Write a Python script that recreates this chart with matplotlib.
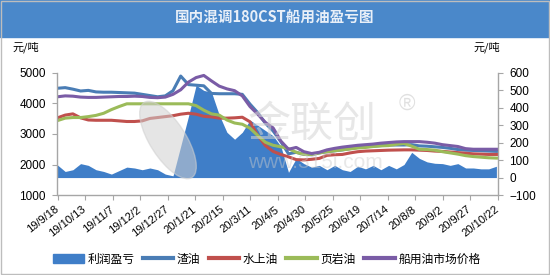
import matplotlib
matplotlib.use("Agg")
import matplotlib.pyplot as plt
import matplotlib.dates as mdates
from matplotlib.patches import Rectangle, Patch, Ellipse
from matplotlib.lines import Line2D
import pandas as pd

plt.rcParams['font.family'] = ['Liberation Sans', 'Noto Sans CJK SC', 'DejaVu Sans']

# ---------------- data ----------------
dates = pd.date_range('2019-09-18', periods=58, freq='7D')

residual = [4500, 4520, 4470, 4410, 4430, 4380, 4370, 4370, 4360, 4350,
            4340, 4300, 4260, 4220, 4250, 4420, 4900, 4620, 4600, 4580,
            4330, 4320, 4320, 4320, 4300, 3980, 3700, 3350, 3100, 2750,
            2350, 2400, 2330, 2320, 2380, 2420, 2450, 2480, 2520, 2560,
            2580, 2600, 2620, 2640, 2640, 2640, 2650, 2610, 2600, 2580,
            2560, 2530, 2490, 2470, 2460, 2450, 2440, 2430]

market = [4220, 4250, 4240, 4210, 4200, 4200, 4210, 4220, 4230, 4230,
          4240, 4230, 4200, 4190, 4210, 4300, 4450, 4700, 4850, 4920,
          4740, 4570, 4480, 4420, 4250, 3900, 3650, 3380, 3200, 2770,
          2500, 2560, 2420, 2360, 2400, 2480, 2530, 2570, 2600, 2630,
          2650, 2670, 2700, 2720, 2740, 2750, 2750, 2750, 2730, 2700,
          2650, 2620, 2590, 2520, 2500, 2500, 2500, 2500]

shale = [3440, 3520, 3540, 3540, 3570, 3610, 3680, 3800, 3900, 3990,
         3990, 3990, 3990, 3990, 3990, 3990, 3990, 3990, 3930, 3780,
         3660, 3620, 3460, 3360, 3320, 3190, 2950, 2730, 2630, 2580,
         2520, 2400, 2330, 2330, 2380, 2420, 2450, 2480, 2510, 2540,
         2560, 2590, 2610, 2620, 2660, 2690, 2600, 2500, 2490, 2470,
         2420, 2380, 2340, 2290, 2260, 2240, 2220, 2210]

water = [3530, 3620, 3660, 3530, 3460, 3450, 3450, 3450, 3430, 3410,
         3410, 3430, 3510, 3540, 3570, 3600, 3650, 3680, 3650, 3580,
         3560, 3520, 3520, 3530, 3550, 3400, 2950, 2620, 2430, 2330,
         2250, 2160, 2150, 2170, 2200, 2300, 2320, 2330, 2380, 2420,
         2440, 2450, 2460, 2470, 2475, 2480, 2480, 2470, 2460, 2440,
         2430, 2410, 2390, 2370, 2350, 2340, 2330, 2330]

profit = [72, 35, 45, 80, 70, 45, 35, 20, 40, 60,
          55, 45, 55, 45, 20, 10, 180, 350, 530, 500,
          490, 360, 260, 220, 260, 330, 300, 270, 240, 180,
          30, 110, 80, 60, 70, 45, 70, 45, 35, 65,
          50, 70, 45, 70, 50, 75, 145, 110, 90, 82,
          80, 70, 80, 55, 55, 50, 50, 65]

tick_dates = pd.date_range('2019-09-18', '2020-10-22', freq='25D')
tick_labels = ['19/9/18', '19/10/13', '19/11/7', '19/12/2', '19/12/27',
               '20/1/21', '20/2/15', '20/3/11', '20/4/5', '20/4/30',
               '20/5/25', '20/6/19', '20/7/14', '20/8/8', '20/9/2',
               '20/9/27', '20/10/22']

title = '国内混调180CST船用油盈亏图'
unit = '元/吨'
series_names = ['利润盈亏', '渣油', '水上油', '页岩油', '船用油市场价格']

# ---------------- style ----------------
c_area = '#3f7ec8'
c_res = '#4a7db5'
c_water = '#c0504d'
c_shale = '#9bbb59'
c_market = '#7a5ca6'
c_spine = '#a6a6a6'

W, H = 550, 275
fig = plt.figure(figsize=(W / 100, H / 100), dpi=100)
fig.patch.set_facecolor('white')

# title bar
fig.patches.append(Rectangle((0, 1 - 37 / H), 1, 37 / H, transform=fig.transFigure,
                             color='#4a88ca', zorder=0))
fig.text(0.5, 1 - 18 / H, title, ha='center', va='center', color='#e8eff8',
         fontsize=10.5, fontweight='bold', family=['Noto Sans CJK SC'])

fig.text(12 / W, 1 - 47 / H, unit, ha='left', va='center', fontsize=8,
         family=['Noto Sans CJK SC'])
fig.text(500 / W, 1 - 47 / H, unit, ha='right', va='center', fontsize=8,
         family=['Noto Sans CJK SC'])

l, r, t, b = 57.5, 497.5, 73, 195
ax = fig.add_axes([l / W, 1 - b / H, (r - l) / W, (b - t) / H])
ax2 = ax.twinx()

ax2.fill_between(dates, 0, profit, color=c_area, lw=0)
ax.plot(dates, residual, color=c_res, lw=2.2)
ax.plot(dates, water, color=c_water, lw=2.2)
ax.plot(dates, shale, color=c_shale, lw=2.2)
ax.plot(dates, market, color=c_market, lw=2.2)

ax.set_zorder(ax2.get_zorder() + 1)
ax.patch.set_visible(False)

ax.set_xlim(pd.Timestamp('2019-09-18'), pd.Timestamp('2020-10-22'))
ax.set_ylim(1000, 5000)
ax2.set_ylim(-100, 600)
ax.set_yticks(range(1000, 5001, 1000))
ax2.set_yticks(range(-100, 601, 100))
ax.set_xticks(tick_dates)
ax.set_xticklabels(tick_labels, rotation=38, ha='right', va='center',
                   rotation_mode='anchor', fontsize=8)

for a in (ax, ax2):
    for s in a.spines.values():
        s.set_visible(False)
ax.spines['left'].set_visible(True)
ax.spines['bottom'].set_visible(True)
ax2.spines['right'].set_visible(True)
for s in (ax.spines['left'], ax.spines['bottom'], ax2.spines['right']):
    s.set_color(c_spine)
    s.set_linewidth(1)

ax.tick_params(axis='y', labelsize=8.5, length=3.5, color=c_spine, pad=5)
ax.tick_params(axis='x', length=3.5, color=c_spine, pad=6)
ax2.tick_params(axis='y', labelsize=8.5, length=3.5, color=c_spine, pad=5)

# watermark
fig.patches.append(Ellipse((168 / W, 1 - 140 / H), 40 / W, 80 / H, angle=15,
                           transform=fig.transFigure, color='#d0d0d0', alpha=0.55,
                           zorder=5))
fig.text(312 / W, 1 - 125 / H, '金联创', ha='center', va='center', fontsize=31,
         color='#d4d4d4', alpha=0.55, family=['Noto Sans CJK SC'], zorder=6)
fig.text(407 / W, 1 - 104 / H, '®', ha='center', va='center', fontsize=16,
         color='#d4d4d4', alpha=0.7, zorder=6)
fig.text(315 / W, 1 - 163 / H, 'www.315i.com', ha='center', va='center',
         fontsize=15, color='#cccccc', alpha=0.45, zorder=6)

# legend
handles = [Patch(color=c_area),
           Line2D([], [], color=c_res, lw=3),
           Line2D([], [], color=c_water, lw=3),
           Line2D([], [], color=c_shale, lw=3),
           Line2D([], [], color=c_market, lw=3)]
fig.legend(handles, series_names, loc='center', bbox_to_anchor=(0.485, 1 - 259 / H),
           ncol=5, frameon=False, prop={'family': ['Noto Sans CJK SC'], 'size': 8.5},
           handlelength=2.6, handleheight=0.8, columnspacing=0.7, handletextpad=0.3)

# outer border
fig.patches.append(Rectangle((0.002, 0.004), 0.996, 0.994, transform=fig.transFigure,
                             fill=False, edgecolor='#bdbdbd', lw=1, zorder=0))

fig.savefig('out.png', dpi=100)
